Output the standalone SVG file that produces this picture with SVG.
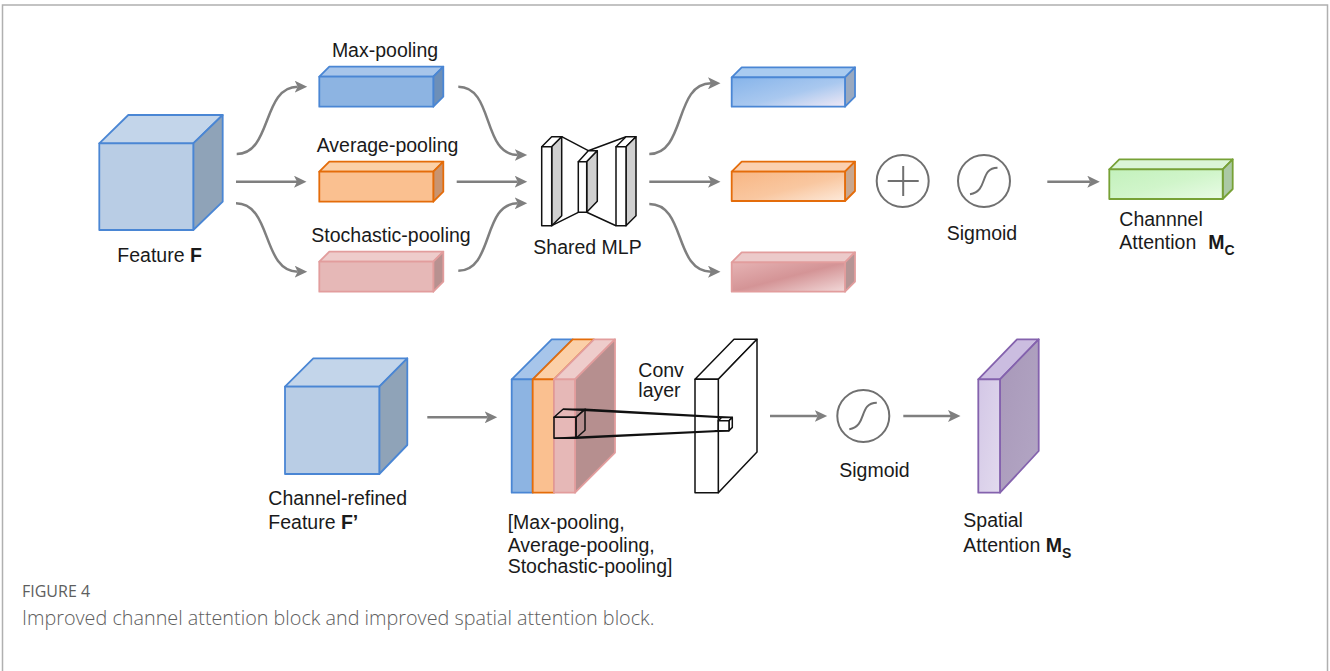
<svg xmlns="http://www.w3.org/2000/svg" width="1330" height="671" viewBox="0 0 1330 671">
  <style>
    .lbl { font-family: "Liberation Sans", Arial, sans-serif; font-size: 19.5px; fill: #1a1a1a; }
    .b { font-weight: bold; }
    .sub { font-size: 14px; font-weight: bold; }
    .cap1 { font-family: "Open Sans", "Liberation Sans", sans-serif; font-size: 16px; fill: #5e5e5e; }
    .cap2 { font-family: "Open Sans", "Liberation Sans", sans-serif; font-weight: 300; font-size: 19.8px; fill: #5e5e5e; }
    .conn { fill: none; stroke: #7f7f7f; stroke-width: 2.5; marker-end: url(#arr); }
    .ink { stroke: #111; stroke-width: 1.5; stroke-linejoin: round; }
    .ring { fill: none; stroke: #707070; stroke-width: 2; }
    .sblue { stroke: #4a86d4; stroke-width: 1.8; stroke-linejoin: round; }
    .sorange { stroke: #e46c0a; stroke-width: 1.8; stroke-linejoin: round; }
    .spink { stroke: #e29d9d; stroke-width: 1.8; stroke-linejoin: round; }
    .sgreen { stroke: #77a136; stroke-width: 1.8; stroke-linejoin: round; }
    .spurple { stroke: #8462ad; stroke-width: 1.8; stroke-linejoin: round; }
  </style>
  <defs>
    <marker id="arr" markerUnits="userSpaceOnUse" markerWidth="14" markerHeight="12" refX="3" refY="6" orient="auto">
      <path d="M0,0 L12.5,6 L0,12 L3,6 Z" fill="#7f7f7f"/>
    </marker>
    <linearGradient id="gBlue" x1="0" y1="0" x2="1" y2="1">
      <stop offset="0" stop-color="#86b4ea"/>
      <stop offset="0.55" stop-color="#a9c8ef"/>
      <stop offset="1" stop-color="#f1e9f5"/>
    </linearGradient>
    <linearGradient id="gOrange" x1="0" y1="0" x2="1" y2="1">
      <stop offset="0" stop-color="#f8b683"/>
      <stop offset="0.55" stop-color="#f9c7a0"/>
      <stop offset="1" stop-color="#fdeadb"/>
    </linearGradient>
    <linearGradient id="gPink" x1="0" y1="0" x2="1" y2="1">
      <stop offset="0" stop-color="#e6b3b4"/>
      <stop offset="0.5" stop-color="#d49496"/>
      <stop offset="1" stop-color="#f2d9d9"/>
    </linearGradient>
    <linearGradient id="gGreen" x1="0" y1="0" x2="1" y2="1">
      <stop offset="0" stop-color="#c3f1bc"/>
      <stop offset="0.5" stop-color="#d0f5ca"/>
      <stop offset="1" stop-color="#e9fbe6"/>
    </linearGradient>
    <linearGradient id="gPurple" x1="0" y1="0" x2="1" y2="1">
      <stop offset="0" stop-color="#d3c7e6"/>
      <stop offset="1" stop-color="#e2daee"/>
    </linearGradient>
    <linearGradient id="gPurpleSide" x1="0" y1="0" x2="1" y2="1">
      <stop offset="0" stop-color="#a898b9"/>
      <stop offset="1" stop-color="#b3a6c4"/>
    </linearGradient>
  </defs>

  <!-- page frame -->
  <path d="M2.5,671 V5 H1327.5 V671" fill="none" stroke="#b0b0b0" stroke-width="1.5"/>

  <!-- ============ channel attention ============ -->
  <g id="feature-f">
    <polygon class="sblue" points="99.3,143.3 128.3,115 222.7,115 193.3,143.3" fill="#c3d5ea"/>
    <polygon class="sblue" points="193.3,143.3 222.7,115 222.7,201.7 193.3,230" fill="#8fa3b8"/>
    <rect class="sblue" x="99.3" y="143.3" width="94" height="86.7" fill="#b9cde5"/>
    <text class="lbl" x="117.3" y="262.3">Feature <tspan class="b">F</tspan></text>
  </g>

  <g id="max-pool">
    <polygon class="sblue" points="319.3,76.7 329.3,66.7 443.3,66.7 433.3,76.7" fill="#a7c5ea"/>
    <polygon class="sblue" points="433.3,76.7 443.3,66.7 443.3,96.7 433.3,106.7" fill="#6d8fb8"/>
    <rect class="sblue" x="319.3" y="76.7" width="114" height="30" fill="#8db4e2"/>
    <text class="lbl" x="385" y="56.7" text-anchor="middle">Max-pooling</text>
  </g>

  <g id="avg-pool">
    <polygon class="sorange" points="319.3,171.7 329.3,161.7 443.3,161.7 433.3,171.7" fill="#fbd0a8"/>
    <polygon class="sorange" points="433.3,171.7 443.3,161.7 443.3,191.7 433.3,201.7" fill="#c99470"/>
    <rect class="sorange" x="319.3" y="171.7" width="114" height="30" fill="#fac090"/>
    <text class="lbl" x="387.5" y="151.7" text-anchor="middle">Average-pooling</text>
  </g>

  <g id="sto-pool">
    <polygon class="spink" points="319.3,261.7 329.3,251.7 443.3,251.7 433.3,261.7" fill="#eecccb"/>
    <polygon class="spink" points="433.3,261.7 443.3,251.7 443.3,281.7 433.3,291.7" fill="#b89190"/>
    <rect class="spink" x="319.3" y="261.7" width="114" height="30" fill="#e6b8b7"/>
    <text class="lbl" x="391" y="241.7" text-anchor="middle">Stochastic-pooling</text>
  </g>

  <g id="shared-mlp">
    <!-- links between layers -->
    <path class="ink" fill="none" d="M561.7,136.7 L588.3,150.7 L626,136.7 M551.7,225.7 L578.3,212.3 M586.7,212.3 L616,225.7"/>
    <!-- first layer -->
    <polygon class="ink" points="541.7,146.7 551.7,136.7 561.7,136.7 551.7,146.7" fill="#fff"/>
    <polygon class="ink" points="551.7,146.7 561.7,136.7 561.7,215.7 551.7,225.7" fill="#d0d0d0"/>
    <rect class="ink" x="541.7" y="146.7" width="10" height="79" fill="#fff"/>
    <!-- bottleneck layer -->
    <polygon class="ink" points="578.3,161.7 588.3,150.7 597.3,150.7 586.7,161.7" fill="#fff"/>
    <polygon class="ink" points="586.7,161.7 597.3,150.7 597.3,201.3 586.7,212.3" fill="#d0d0d0"/>
    <rect class="ink" x="578.3" y="161.7" width="8.4" height="50.6" fill="#fff"/>
    <!-- last layer -->
    <polygon class="ink" points="616,146.7 626,136.7 636,136.7 626,146.7" fill="#fff"/>
    <polygon class="ink" points="626,146.7 636,136.7 636,215.7 626,225.7" fill="#d0d0d0"/>
    <rect class="ink" x="616" y="146.7" width="10" height="79" fill="#fff"/>
    <text class="lbl" x="587.5" y="254" text-anchor="middle">Shared MLP</text>
  </g>

  <g id="out-max">
    <polygon class="sblue" points="731.7,77.3 741.7,67.3 855,67.3 845,77.3" fill="#a9cbf0"/>
    <polygon class="sblue" points="845,77.3 855,67.3 855,96.7 845,106.7" fill="#9aa9bf"/>
    <rect class="sblue" x="731.7" y="77.3" width="113.3" height="29.4" fill="url(#gBlue)"/>
  </g>

  <g id="out-avg">
    <polygon class="sorange" points="731.7,171.7 741.7,161.7 855,161.7 845,171.7" fill="#fbd0b0"/>
    <polygon class="sorange" points="845,171.7 855,161.7 855,191 845,201" fill="#c8a78f"/>
    <rect class="sorange" x="731.7" y="171.7" width="113.3" height="29.3" fill="url(#gOrange)"/>
  </g>

  <g id="out-sto">
    <polygon class="spink" points="731.7,262.3 741.7,252.3 855,252.3 845,262.3" fill="#eccaca"/>
    <polygon class="spink" points="845,262.3 855,252.3 855,281.7 845,291.7" fill="#b59595"/>
    <rect class="spink" x="731.7" y="262.3" width="113.3" height="29.4" fill="url(#gPink)"/>
  </g>

  <g id="sum">
    <circle class="ring" cx="902.7" cy="181" r="26"/>
    <path class="ring" d="M887.7,181 H918.7 M903.2,166 V196"/>
  </g>

  <g id="sigmoid-c">
    <circle class="ring" cx="984" cy="181" r="26"/>
    <path class="ring" d="M970,194.3 C989,191 979,168 997.5,167.7"/>
    <text class="lbl" x="982" y="240" text-anchor="middle">Sigmoid</text>
  </g>

  <g id="channel-att">
    <polygon class="sgreen" points="1109.3,169.3 1119.3,159.3 1232.7,159.3 1222.7,169.3" fill="#dbf5d6"/>
    <polygon class="sgreen" points="1222.7,169.3 1232.7,159.3 1232.7,189 1222.7,199" fill="#abc9a5"/>
    <rect class="sgreen" x="1109.3" y="169.3" width="113.4" height="29.7" fill="url(#gGreen)"/>
    <text class="lbl" x="1119.3" y="226">Channnel</text>
    <text class="lbl" x="1119.3" y="249.3">Attention<tspan class="b" x="1208.3">M</tspan><tspan class="sub" dy="6">C</tspan></text>
  </g>

  <!-- ============ spatial attention ============ -->
  <g id="feature-f2">
    <polygon class="sblue" points="285,386.7 313.3,358.3 407.3,358.3 379.3,386.7" fill="#c3d5ea"/>
    <polygon class="sblue" points="379.3,386.7 407.3,358.3 407.3,445 379.3,474" fill="#8fa3b8"/>
    <rect class="sblue" x="285" y="386.7" width="94.3" height="87.3" fill="#b9cde5"/>
    <text class="lbl" x="268.3" y="505">Channel-refined</text>
    <text class="lbl" x="268.3" y="529">Feature <tspan class="b">F’</tspan></text>
  </g>

  <g id="pool-stack">
    <!-- max-pooling map -->
    <polygon class="sblue" points="511.7,379.3 551.7,339.3 572.7,339.3 532.7,379.3" fill="#a7c5ea"/>
    <rect class="sblue" x="511.7" y="379.3" width="21" height="113.4" fill="#8db4e2"/>
    <!-- average-pooling map -->
    <polygon class="sorange" points="532.7,379.3 572.7,339.3 594,339.3 554,379.3" fill="#fbd0a8"/>
    <rect class="sorange" x="532.7" y="379.3" width="21.3" height="113.4" fill="#fac090"/>
    <!-- stochastic-pooling map -->
    <polygon class="spink" points="554,379.3 594,339.3 615,339.3 575,379.3" fill="#eecccb"/>
    <polygon class="spink" points="575,379.3 615,339.3 615,452.7 575,492.7" fill="#b68f8f"/>
    <rect class="spink" x="554" y="379.3" width="21" height="113.4" fill="#e6b8b7"/>
    <text class="lbl" x="507.7" y="529.3">[Max-pooling,</text>
    <text class="lbl" x="507.7" y="551.7">Average-pooling,</text>
    <text class="lbl" x="507.7" y="573.3">Stochastic-pooling]</text>
  </g>

  <g id="conv-layer">
    <polygon class="ink" points="695,379.3 734,339.3 757,339.3 718.3,379.3" fill="#fff"/>
    <polygon class="ink" points="718.3,379.3 757,339.3 757,452 718.3,492.7" fill="#fff"/>
    <rect class="ink" x="695" y="379.3" width="23.3" height="113.4" fill="#fff"/>
    <text class="lbl" x="638.3" y="376.7">Conv</text>
    <text class="lbl" x="638.3" y="396.7">layer</text>
  </g>

  <g id="kernel">
    <!-- receptive field projected onto the conv output -->
    <path class="ink" fill="none" d="M563,409.3 L721.6,417.4 M585,409.3 L732.3,417.4 M554,438.3 L718.3,430.7 M576,438.3 L729,430.7"/>
    <polygon class="ink" points="554,417.3 563,409.3 585,409.3 576,417.3" fill="none"/>
    <polygon class="ink" points="576,417.3 585,409.3 585,430.3 576,438.3" fill="none"/>
    <rect class="ink" x="554" y="417.3" width="22" height="21" fill="none"/>
    <polygon class="ink" points="718.3,420.7 721.6,417.4 732.3,417.4 729,420.7" fill="#fff"/>
    <polygon class="ink" points="729,420.7 732.3,417.4 732.3,427.4 729,430.7" fill="#fff"/>
    <rect class="ink" x="718.3" y="420.7" width="10.7" height="10" fill="#fff"/>
  </g>

  <g id="sigmoid-s">
    <circle class="ring" cx="863.3" cy="416" r="26"/>
    <path class="ring" d="M849.3,429.3 C868,426 858,403 876.8,402.7"/>
    <text class="lbl" x="874.5" y="476.7" text-anchor="middle">Sigmoid</text>
  </g>

  <g id="spatial-att">
    <polygon class="spurple" points="978.3,379.3 1017,339.3 1038.7,339.3 1000,379.3" fill="#cbbde0"/>
    <polygon class="spurple" points="1000,379.3 1038.7,339.3 1038.7,451 1000,492.7" fill="url(#gPurpleSide)"/>
    <rect class="spurple" x="978.3" y="379.3" width="21.7" height="113.4" fill="url(#gPurple)"/>
    <text class="lbl" x="963.3" y="526.7">Spatial</text>
    <text class="lbl" x="963.3" y="551.7">Attention <tspan class="b">M</tspan><tspan class="sub" dy="6">S</tspan></text>
  </g>

  <!-- connectors -->
  <g id="connectors">
    <path class="conn" d="M236.7,154 C272,154 262,86.7 297.7,86.7"/>
    <path class="conn" d="M236,181.7 H297"/>
    <path class="conn" d="M236,203.3 C272,203.3 262,271.7 297.7,271.7"/>
    <path class="conn" d="M458.3,86.7 C494,86.7 482,155 517.7,155"/>
    <path class="conn" d="M456.7,181.7 H517.7"/>
    <path class="conn" d="M458.3,270.7 C494,270.7 482,203.3 517.7,203.3"/>
    <path class="conn" d="M649.3,154 C686,154 674,83.3 711,83.3"/>
    <path class="conn" d="M649.3,181.7 H711"/>
    <path class="conn" d="M649.3,204 C686,204 674,271.7 711,271.7"/>
    <path class="conn" d="M1047.3,181.7 H1090.3"/>
    <path class="conn" d="M427.3,417.3 H487.7"/>
    <path class="conn" d="M770,416 H817.7"/>
    <path class="conn" d="M903.3,416 H951"/>
  </g>

  <!-- caption -->
  <text class="cap1" x="22" y="597">FIGURE 4</text>
  <text class="cap2" x="22" y="625">Improved channel attention block and improved spatial attention block.</text>
</svg>
